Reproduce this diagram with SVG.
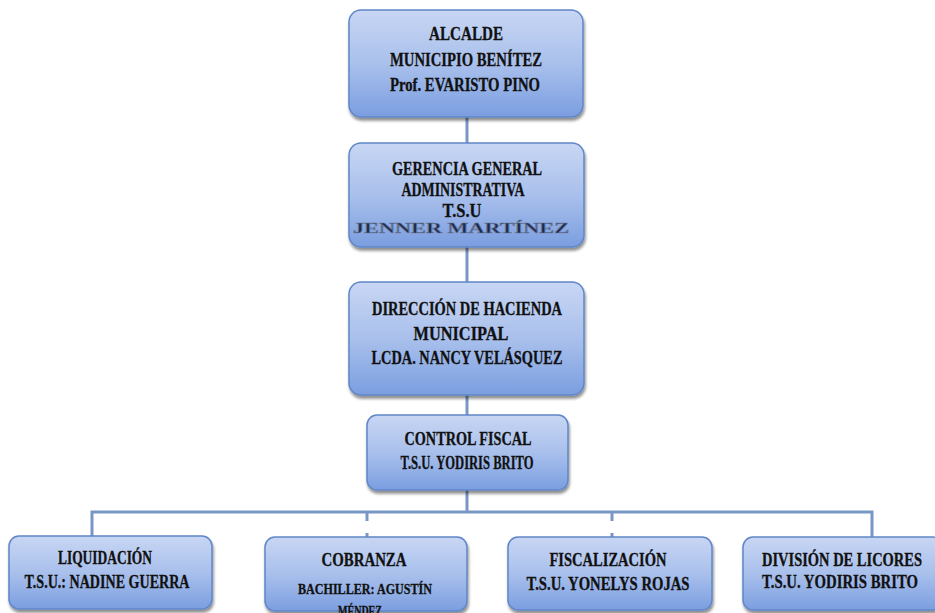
<svg xmlns="http://www.w3.org/2000/svg" width="935" height="613" viewBox="0 0 935 613">
<defs>
<linearGradient id="g" x1="0" y1="0" x2="0" y2="1">
<stop offset="0" stop-color="#c8d6f3"/>
<stop offset="0.5" stop-color="#a9c0ec"/>
<stop offset="1" stop-color="#7b9ee0"/>
</linearGradient>
<filter id="sh" x="-10%" y="-10%" width="130%" height="140%">
<feGaussianBlur in="SourceAlpha" stdDeviation="1.5"/>
<feOffset dx="1" dy="3" result="o"/>
<feComponentTransfer><feFuncA type="linear" slope="0.45"/></feComponentTransfer>
<feMerge><feMergeNode/><feMergeNode in="SourceGraphic"/></feMerge>
</filter>
</defs>
<style>
.box{fill:url(#g);stroke:#5f86c8;stroke-width:1.5;filter:url(#sh)}
.t{font-family:"Liberation Serif","DejaVu Serif",serif;font-weight:bold;font-size:19px;fill:#111;text-anchor:middle;stroke:#111;stroke-width:0.3}
.s{font-size:15px}
.j{font-family:"Liberation Serif",serif;font-weight:bold;font-size:14px;fill:#1d2a4a;stroke:#6d7da0;stroke-width:0.6;text-anchor:middle}
.c{fill:none;stroke:#7896c6;stroke-width:3}
</style>
<g id="connectors">
<line class="c" x1="467" y1="117" x2="467" y2="143"/>
<line class="c" x1="467" y1="247" x2="467" y2="282"/>
<line class="c" x1="467" y1="395" x2="467" y2="415"/>
<line class="c" x1="467" y1="490" x2="467" y2="512"/>
<polyline class="c" points="92,536 92,512 872,512 872,537"/>
<line class="c" x1="367" y1="512" x2="367" y2="521"/>
<line class="c" x1="367" y1="533" x2="367" y2="537"/>
<line class="c" x1="612" y1="512" x2="612" y2="521"/>
<line class="c" x1="612" y1="533" x2="612" y2="537"/>
</g>
<g id="alcalde">
<rect class="box" x="349" y="10" width="234" height="107" rx="12"/>
<text class="t" x="466" y="40" textLength="74" lengthAdjust="spacingAndGlyphs">ALCALDE</text>
<text class="t" x="466" y="66" textLength="152" lengthAdjust="spacingAndGlyphs">MUNICIPIO BENÍTEZ</text>
<text class="t" x="465" y="91" textLength="150" lengthAdjust="spacingAndGlyphs">Prof. EVARISTO PINO</text>
</g>
<g id="gerencia">
<rect class="box" x="349" y="143" width="235" height="104" rx="12"/>
<text class="t" x="467" y="175" textLength="150" lengthAdjust="spacingAndGlyphs">GERENCIA GENERAL</text>
<text class="t" x="463" y="196" textLength="123" lengthAdjust="spacingAndGlyphs">ADMINISTRATIVA</text>
<text class="t" x="462" y="217" textLength="39" lengthAdjust="spacingAndGlyphs">T.S.U</text>
<text class="j" x="461" y="233" textLength="216" lengthAdjust="spacingAndGlyphs">JENNER  MARTÍNEZ</text>
</g>
<g id="direccion">
<rect class="box" x="349" y="282" width="235" height="113" rx="12"/>
<text class="t" x="467" y="315" textLength="190" lengthAdjust="spacingAndGlyphs">DIRECCIÓN DE HACIENDA</text>
<text class="t" x="461" y="340" textLength="95" lengthAdjust="spacingAndGlyphs">MUNICIPAL</text>
<text class="t" x="467" y="364" textLength="191" lengthAdjust="spacingAndGlyphs">LCDA. NANCY VELÁSQUEZ</text>
</g>
<g id="control">
<rect class="box" x="367" y="415" width="201" height="75" rx="10"/>
<text class="t" x="468" y="445" textLength="127" lengthAdjust="spacingAndGlyphs">CONTROL FISCAL</text>
<text class="t" x="467" y="469" textLength="133" lengthAdjust="spacingAndGlyphs">T.S.U. YODIRIS BRITO</text>
</g>
<g id="liquidacion">
<rect class="box" x="9" y="536" width="203" height="73" rx="10"/>
<text class="t" x="105" y="564" textLength="94" lengthAdjust="spacingAndGlyphs">LIQUIDACIÓN</text>
<text class="t" x="107" y="588" textLength="165" lengthAdjust="spacingAndGlyphs">T.S.U.: NADINE GUERRA</text>
</g>
<g id="cobranza">
<rect class="box" x="265" y="537" width="202" height="74" rx="10"/>
<text class="t" x="364" y="566" textLength="85" lengthAdjust="spacingAndGlyphs">COBRANZA</text>
<text class="t s" x="365" y="594" textLength="134" lengthAdjust="spacingAndGlyphs">BACHILLER: AGUSTÍN</text>
<text class="t s" x="360" y="616" textLength="44" lengthAdjust="spacingAndGlyphs">MÉNDEZ</text>
</g>
<g id="fiscalizacion">
<rect class="box" x="508" y="537" width="204" height="73" rx="10"/>
<text class="t" x="608" y="566" textLength="117" lengthAdjust="spacingAndGlyphs">FISCALIZACIÓN</text>
<text class="t" x="608" y="590" textLength="163" lengthAdjust="spacingAndGlyphs">T.S.U. YONELYS ROJAS</text>
</g>
<g id="licores">
<rect class="box" x="743" y="537" width="200" height="73" rx="10"/>
<text class="t" x="842" y="566" textLength="160" lengthAdjust="spacingAndGlyphs">DIVISIÓN DE LICORES</text>
<text class="t" x="840" y="588" textLength="156" lengthAdjust="spacingAndGlyphs">T.S.U. YODIRIS BRITO</text>
</g>
</svg>
